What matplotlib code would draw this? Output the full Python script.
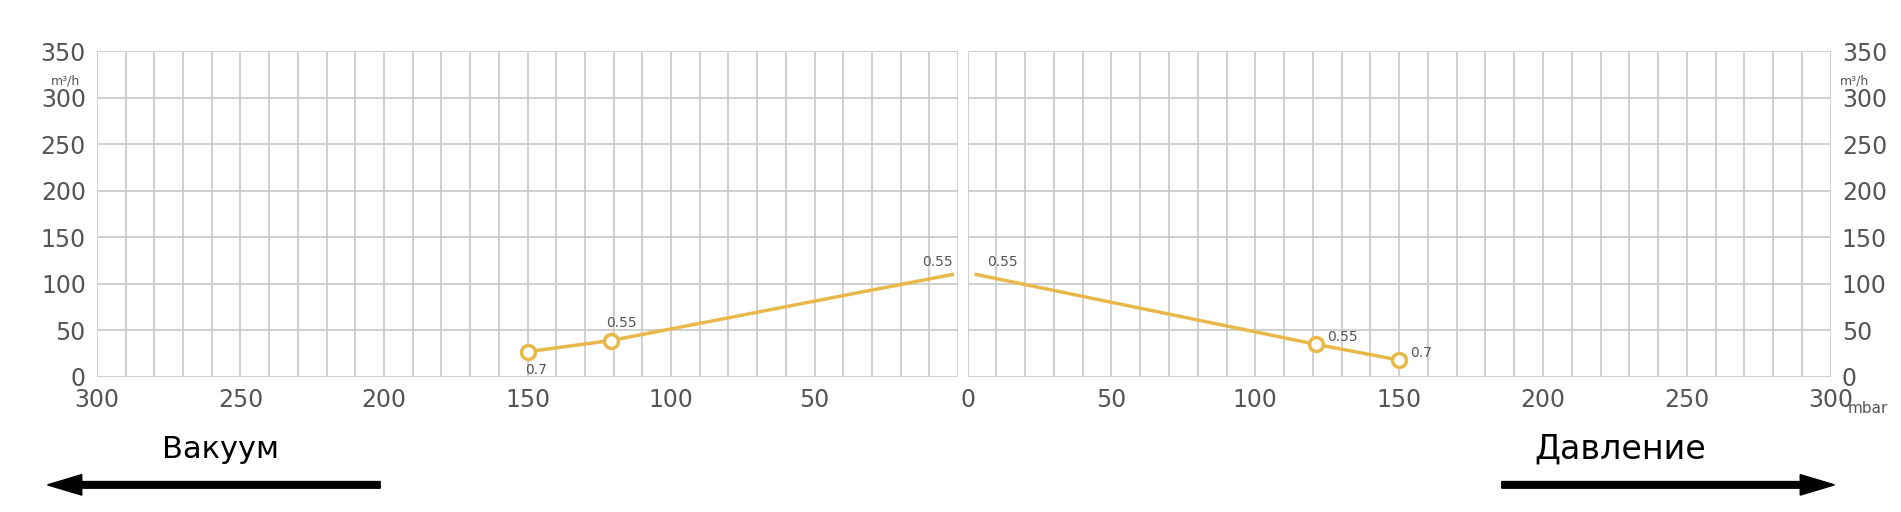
import matplotlib
matplotlib.use("Agg")
import matplotlib.pyplot as plt
import numpy as np

vac_x = [150, 121, 2]
vac_y = [27, 39, 110]
vac_lbl = ["0.7", "0.55", "0.55"]
prs_x = [3, 121, 150]
prs_y = [110, 35, 18]
prs_lbl = ["0.55", "0.55", "0.7"]
yticks = [0, 50, 100, 150, 200, 250, 300, 350]
xticks = [0, 50, 100, 150, 200, 250, 300]
xticks_left = [50, 100, 150, 200, 250, 300]

col = "#E8B84A"
gcol = "#c8c8c8"
tcol = "#555555"
fig = plt.figure(figsize=(19.01, 5.12), dpi=100)
axL = fig.add_axes([0.051, 0.264, 0.453, 0.636])
axR = fig.add_axes([0.509, 0.264, 0.454, 0.636])

for ax in (axL, axR):
    ax.set_xlim(0, 300)
    ax.set_ylim(0, 350)
    ax.set_xticks(np.arange(0, 301, 10), minor=True)
    ax.set_yticks(yticks)
    ax.grid(True, which="both", axis="x", color=gcol, lw=1.2)
    ax.grid(True, which="major", axis="y", color=gcol, lw=1.2)
    for s in ax.spines.values():
        s.set_visible(False)
    ax.tick_params(which="both", length=0, labelsize=17, colors=tcol, pad=8)
    ax.set_axisbelow(True)

axL.set_xticks(xticks_left)
axR.set_xticks(xticks)
axL.invert_xaxis()
axR.yaxis.tick_right()

axL.plot(vac_x, vac_y, color=col, lw=2.5)
axL.plot(vac_x[:2], vac_y[:2], 'o', ms=10, mfc="white", mec=col, mew=2.5)
axR.plot(prs_x, prs_y, color=col, lw=2.5)
axR.plot(prs_x[1:], prs_y[1:], 'o', ms=10, mfc="white", mec=col, mew=2.5)

offL = [(-2, -16), (-3, 10), (-22, 6)]
for (x, y, t, o) in zip(vac_x, vac_y, vac_lbl, offL):
    axL.annotate(t, (x, y), xytext=o, textcoords="offset points", fontsize=10, color=tcol, ha="left")
offR = [(8, 6), (8, 2), (8, 2)]
for (x, y, t, o) in zip(prs_x, prs_y, prs_lbl, offR):
    axR.annotate(t, (x, y), xytext=o, textcoords="offset points", fontsize=10, color=tcol, ha="left")

fig.text(0.042, 0.835, "m³/h", fontsize=9, color=tcol, ha="right")
fig.text(0.968, 0.835, "m³/h", fontsize=9, color=tcol, ha="left")
fig.text(0.972, 0.202, "mbar", fontsize=11, color=tcol, ha="left", va="center")

fig.text(0.085, 0.123, "Вакуум", fontsize=22, color="black", ha="left", va="center")
fig.text(0.807, 0.123, "Давление", fontsize=24, color="black", ha="left", va="center")
fig.patches.append(matplotlib.patches.FancyArrow(0.2, 0.053, -0.157, 0, width=0.013, head_width=0.04,
                   head_length=0.018, color="black", transform=fig.transFigure, figure=fig))
fig.patches.append(matplotlib.patches.FancyArrow(0.79, 0.053, 0.157, 0, width=0.013, head_width=0.04,
                   head_length=0.018, color="black", transform=fig.transFigure, figure=fig))
fig.savefig("out.png", dpi=100)
